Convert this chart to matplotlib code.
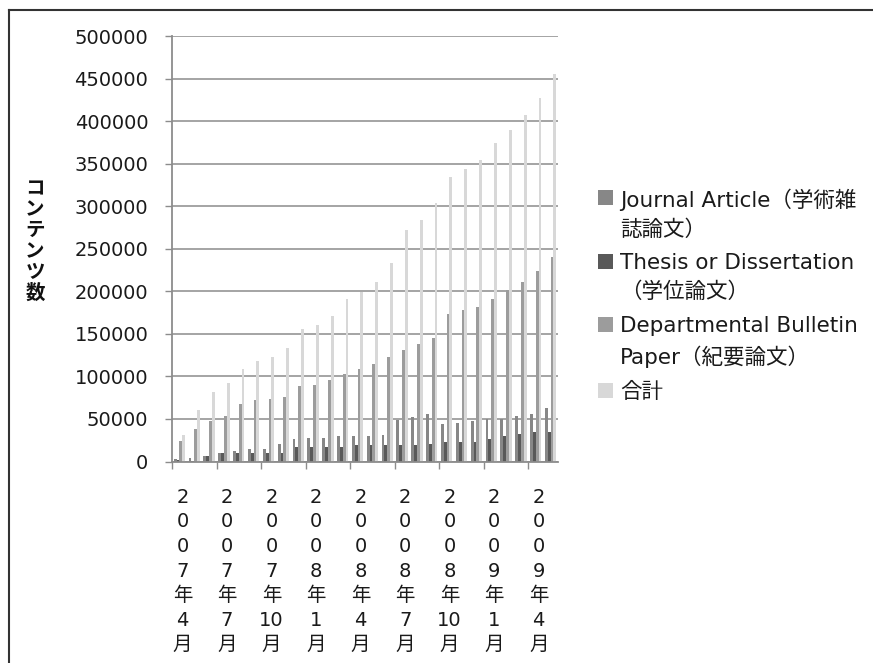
import numpy as np
import matplotlib.pyplot as plt
from matplotlib.patches import Rectangle
from matplotlib.lines import Line2D

plt.rcParams['font.family'] = ['DejaVu Sans', 'Noto Sans CJK JP']

# monthly totals, 2007/4 .. 2009/5
months = [(2007, m) for m in range(4, 13)] + [(2008, m) for m in range(1, 13)] + [(2009, m) for m in range(1, 6)]

journal = [2500, 4500, 7000, 9500, 12500, 15000, 15000, 20000, 26000, 27500, 27500, 29500, 29500,
           29500, 31500, 49000, 52000, 56000, 43500, 45500, 48000, 49500, 49500, 54000, 56000, 63000]
thesis = [1500, 500, 7000, 9500, 10000, 10000, 10000, 10000, 17000, 17000, 17000, 17000, 19000,
          19000, 19000, 19000, 19000, 21000, 23500, 23500, 23500, 27000, 30000, 32500, 34500, 34500]
bulletin = [24500, 38500, 48000, 54000, 67000, 72000, 74000, 76000, 89000, 90000, 96000, 102500, 108500,
            114000, 123000, 131500, 138000, 145000, 173000, 178000, 182000, 191000, 202000, 211000, 224000, 240000]
total = [31500, 61000, 82000, 92000, 109000, 118000, 122500, 133500, 155500, 160500, 171000, 191000, 199000,
         211000, 233000, 272000, 283500, 303500, 334500, 343500, 354500, 374000, 390000, 407500, 427500, 455500]

series = [journal, thesis, bulletin, total]
colors = ['#878787', '#595959', '#9c9c9c', '#d8d8d8']
legend_labels = ['Journal Article（学術雑\n誌論文）',
                 'Thesis or Dissertation\n（学位論文）',
                 'Departmental Bulletin\nPaper（紀要論文）',
                 '合計']

W, H = 873, 663
fig = plt.figure(figsize=(W / 100, H / 100), dpi=100)
ax = fig.add_axes([172 / W, 1 - 461.5 / H, 386 / W, 425.5 / H])

x = np.arange(len(months))
bw = 0.19
for k, (vals, col) in enumerate(zip(series, colors)):
    ax.bar(x + (k - 1.5) * bw, vals, width=bw, color=col, linewidth=0, zorder=2)

grid_c = '#8c8c8c'
ax.set_xlim(-0.5, len(months) - 0.5)
ax.set_ylim(0, 500000)
ax.set_yticks(np.arange(0, 500001, 50000))
ax.yaxis.grid(True, color=grid_c, lw=1.1, zorder=0)
ax.set_axisbelow(True)
for s in ['top', 'right']:
    ax.spines[s].set_visible(False)
for s in ['left', 'bottom']:
    ax.spines[s].set_color(grid_c)
    ax.spines[s].set_linewidth(1.3)

ax.tick_params(axis='y', length=5, width=1, color=grid_c, pad=12, labelsize=14, labelcolor='#1a1a1a')

# tick marks every three months, labels on the first month of each block
ax.set_xticks(np.arange(-0.5, len(months) - 1, 3))
ax.set_xticklabels([])
ax.tick_params(axis='x', which='major', length=5, width=1, color=grid_c)
xlab = ['\n'.join(list(str(y)) + ['年', str(m), '月']) for y, m in months[::3]]
ax.set_xticks(x[::3] + 0.2, xlab, minor=True)
ax.tick_params(axis='x', which='minor', length=0, pad=19, labelsize=14, labelcolor='#1a1a1a')
for t in ax.get_xticklabels(minor=True):
    t.set_linespacing(1.37)

ax.set_ylabel('\n'.join('コンテンツ数'), rotation=0, fontsize=14, fontweight='bold',
              ha='center', va='center', linespacing=1.12, color='#111111')
ax.yaxis.set_label_coords(-0.355, 0.518)

# legend, marker aligned with the first line of each entry
tops = [189, 253, 316, 382]
for lab, col, t in zip(legend_labels, colors, tops):
    fig.add_artist(Rectangle((598 / W, 1 - (t + 16) / H), 15 / W, 15 / H, transform=fig.transFigure,
                             facecolor=col, edgecolor='none'))
    fig.text(620 / W, 1 - t / H, lab, fontsize=15.5, va='top', ha='left',
             linespacing=1.5, color='#1a1a1a')

# chart area border
fig.add_artist(Line2D([9 / W, 9 / W], [0, 1 - 9.5 / H], transform=fig.transFigure, color='#333333', lw=1.5))
fig.add_artist(Line2D([9 / W, 1], [1 - 9.5 / H, 1 - 9.5 / H], transform=fig.transFigure, color='#333333', lw=1.5))

fig.savefig('out.png', dpi=100)
